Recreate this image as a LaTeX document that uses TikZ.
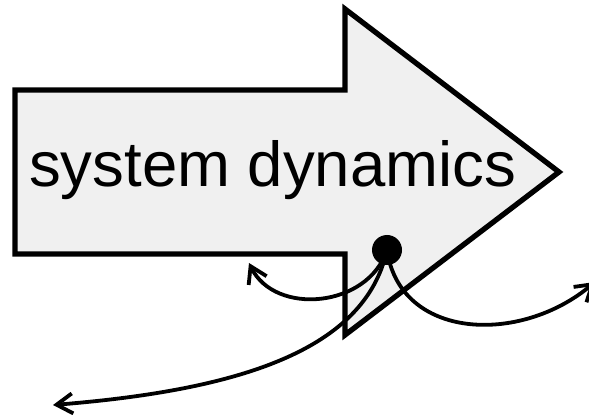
\documentclass[tikz,border=0pt]{standalone}
\usepackage{fontspec}
\setmainfont{Liberation Sans}
\usetikzlibrary{arrows.meta}
\definecolor{arrowfill}{RGB}{240,240,240}
\tikzset{
  bigarrow/.style={draw=black, line width=5.3pt, fill=arrowfill, line join=miter, miter limit=10},
  linkcurve/.style={draw=black, line width=3.8pt, -{Straight Barb[length=16pt,width=20pt]}},
  dotnode/.style={circle, fill=black, minimum size=30pt, inner sep=0pt},
  labeltext/.style={font=\fontsize{63.5pt}{70pt}\selectfont, inner sep=0pt, anchor=base west}
}
\begin{document}
\begin{tikzpicture}[x=1pt,y=-1pt]
\useasboundingbox (0,0) rectangle (589,419);
% big arrow
\draw[bigarrow] (15,90) -- (345,90) -- (345,9) -- (559,172) -- (345,335) -- (345,254) -- (15,254) -- cycle;
\node[labeltext] (label) at (29,187) {system dynamics};
% dot and connectors
\coordinate (dc) at (387,250);
\coordinate (e1) at (249,263);
\coordinate (e2) at (53,405);
\coordinate (e3) at (595,282);
\draw[linkcurve] (dc) .. controls (368,308) and (275,316) .. (e1);
\draw[linkcurve] (dc) .. controls (365,350) and (240,390) .. (e2);
\draw[linkcurve] (dc) .. controls (400,340) and (520,345) .. (e3);
\node[dotnode] (dot) at (dc) {};
\end{tikzpicture}
\end{document}
